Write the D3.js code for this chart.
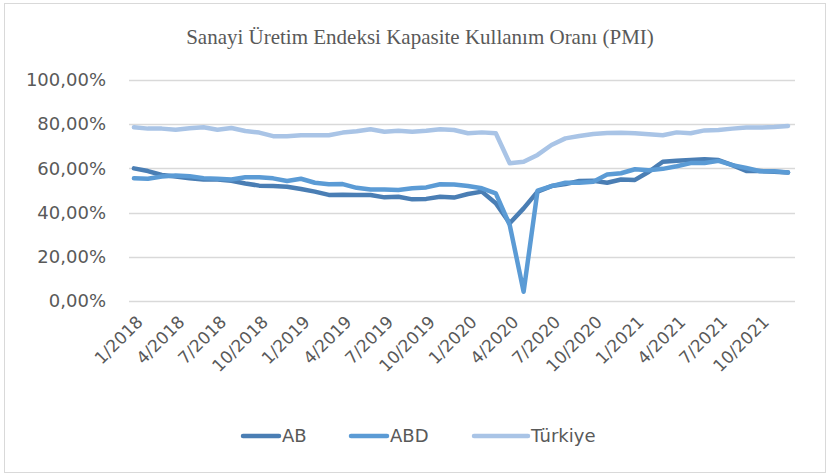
<!DOCTYPE html>
<html>
<head>
<meta charset="utf-8">
<script src="https://cdn.jsdelivr.net/npm/d3@7"></script>
<style>
  body { margin: 0; background: #fff; }
</style>
</head>
<body>
<div id="chart"></div>
<script>
// Data, monthly 1/2018 .. 12/2021
const months = [];
for (let y = 2018; y <= 2021; y++) {
  for (let m = 1; m <= 12; m++) months.push(`${m}/${y}`);
}
const tickLabels = ["1/2018", "4/2018", "7/2018", "10/2018", "1/2019", "4/2019", "7/2019", "10/2019",
  "1/2020", "4/2020", "7/2020", "10/2020", "1/2021", "4/2021", "7/2021", "10/2021"];
const yTicks = [0, 20, 40, 60, 80, 100];

const ab = [60.0, 58.8, 57.0, 56.3, 55.5, 55.0, 55.0, 54.4, 53.2, 52.2, 52.0, 51.7,
  50.7, 49.5, 48.0, 48.1, 48.0, 48.0, 46.9, 47.2, 46.0, 46.2, 47.2, 46.8,
  48.4, 49.5, 44.2, 35.2, 41.9, 49.5, 52.0, 52.9, 54.3, 54.4, 53.5, 55.0,
  54.8, 58.5, 63.0, 63.5, 63.8, 64.1, 63.8, 61.5, 58.8, 58.8, 58.5, 58.1];
const abd = [55.5, 55.3, 56.3, 56.8, 56.5, 55.6, 55.3, 55.0, 56.0, 56.0, 55.5, 54.3,
  55.3, 53.5, 52.8, 52.9, 51.2, 50.5, 50.5, 50.2, 51.0, 51.4, 52.8, 52.7,
  52.0, 51.0, 48.7, 34.4, 4.2, 49.9, 52.0, 53.5, 53.5, 54.0, 57.2, 57.8,
  59.6, 59.2, 59.8, 61.0, 62.4, 62.4, 63.4, 61.5, 60.2, 58.7, 58.7, 58.1];
const turkiye = [78.6, 78.0, 78.0, 77.5, 78.2, 78.6, 77.5, 78.3, 76.9, 76.2, 74.6, 74.6,
  75.0, 75.0, 75.0, 76.2, 76.8, 77.7, 76.6, 77.0, 76.6, 77.0, 77.7, 77.4,
  75.9, 76.3, 75.9, 62.3, 63.0, 66.1, 70.6, 73.6, 74.7, 75.6, 76.0, 76.1,
  75.9, 75.4, 75.0, 76.3, 75.9, 77.2, 77.4, 78.0, 78.5, 78.5, 78.7, 79.2];

const seriesNames = ["AB", "ABD", "Türkiye"];
const seriesValues = [ab, abd, turkiye];
const colours = ["#4a7eb4", "#5b9bd5", "#a9c4e6"];

const width = 828;
const height = 475;
const plot = {left: 127, right: 795, top: 80, bottom: 301};
const labelFont = "'DejaVu Sans', sans-serif";

const svg = d3.select("#chart")
  .append("svg")
    .attr("width", width)
    .attr("height", height);

// chart border
svg.append("rect")
  .attr("x", 4.5).attr("y", 3.5)
  .attr("width", 821).attr("height", 469)
  .attr("fill", "#fff")
  .attr("stroke", "#d9d9d9");

// Scales
const xScale = d3.scaleBand()
  .domain(months)
  .range([plot.left, plot.right]);
const xPos = d => xScale(d) + xScale.bandwidth() / 2;

const yScale = d3.scaleLinear()
  .domain([0, 100])
  .range([plot.bottom, plot.top]);

// Gridlines
svg.append("g")
  .selectAll("line")
  .data(yTicks)
  .join("line")
    .attr("x1", plot.left + 2)
    .attr("x2", plot.right)
    .attr("y1", d => Math.round(yScale(d)) + 0.5)
    .attr("y2", d => Math.round(yScale(d)) + 0.5)
    .attr("stroke", "#d9d9d9")
    .attr("stroke-width", 1.5);

// Y axis labels
const fmt = d => d3.format(".2f")(d).replace(".", ",") + "%";
const leftAxis = d3.axisLeft(yScale)
  .tickValues(yTicks)
  .tickFormat(fmt)
  .tickSize(0)
  .tickPadding(21);
const yAxis = svg.append("g")
  .attr("transform", `translate(${plot.left}, 0)`)
  .call(leftAxis);
yAxis.select(".domain").remove();
yAxis.selectAll("text")
  .style("font-family", labelFont)
  .style("font-size", "18px")
  .attr("fill", "#595959");

// X axis labels (every third month)
const bottomAxis = d3.axisBottom(xScale)
  .tickValues(tickLabels)
  .tickSize(0);
const xAxis = svg.append("g")
  .attr("transform", `translate(0, ${plot.bottom})`)
  .call(bottomAxis);
xAxis.select(".domain").remove();
xAxis.selectAll("text")
  .style("font-family", labelFont)
  .style("font-size", "17px")
  .attr("fill", "#595959")
  .attr("text-anchor", "end")
  .attr("dy", 0)
  .attr("y", 0)
  .attr("transform", "translate(10, 22) rotate(-45)");

// Lines
const lineGenerator = d3.line()
  .x((d, i) => xPos(months[i]))
  .y(d => yScale(d));

svg.append("g")
  .selectAll("path")
  .data(seriesValues)
  .join("path")
    .attr("d", d => lineGenerator(d))
    .attr("fill", "none")
    .attr("stroke", (d, i) => colours[i])
    .attr("stroke-width", 4.5)
    .attr("stroke-linejoin", "round")
    .attr("stroke-linecap", "round");

// Title
svg.append("text")
  .text("Sanayi Üretim Endeksi Kapasite Kullanım Oranı (PMI)")
  .attr("x", 420)
  .attr("y", 44)
  .attr("text-anchor", "middle")
  .style("font-family", "'Liberation Serif', serif")
  .style("font-size", "21px")
  .attr("fill", "#595959");

// Legend
const legendX = [243, 351, 474];
const legendLen = [36, 36, 54];
const legend = svg.append("g")
  .selectAll("g")
  .data(seriesNames)
  .join("g")
    .attr("transform", (d, i) => `translate(${legendX[i]}, 436)`);
legend.append("line")
  .attr("x1", 0)
  .attr("x2", (d, i) => legendLen[i])
  .attr("stroke", (d, i) => colours[i])
  .attr("stroke-width", 4.5)
  .attr("stroke-linecap", "round");
legend.append("text")
  .text(d => d)
  .attr("x", (d, i) => legendLen[i] + 3)
  .attr("dy", "0.36em")
  .style("font-family", labelFont)
  .style("font-size", "18px")
  .attr("fill", "#595959");
</script>
</body>
</html>
